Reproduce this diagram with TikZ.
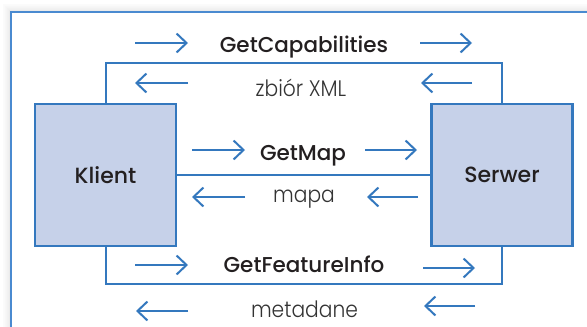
\documentclass[tikz,border=0pt]{standalone}
\usepackage{fontspec}
\setmainfont{Poppins}
\newfontfamily\reqfont{Poppins Medium}
\newfontfamily\respfont{Poppins Light}[FakeStretch=0.9]
\usetikzlibrary{arrows.meta}
\definecolor{wmsblue}{HTML}{3478BE}
\definecolor{frameblue}{HTML}{4A8AD0}
\definecolor{boxfill}{HTML}{C6D1E9}
\definecolor{ink}{HTML}{231F20}
\definecolor{softink}{HTML}{333333}
\tikzset{
  actor/.style={draw=wmsblue, line width=2.2pt, fill=boxfill,
    minimum width=141pt, minimum height=142pt, inner sep=0pt,
    font=\reqfont\fontsize{22}{22}\selectfont, text=ink},
  link/.style={draw=wmsblue, line width=2pt},
  flow/.style={draw=wmsblue, line width=2pt,
    -{Straight Barb[length=10pt,width=19pt,line width=2pt]}},
  request/.style={font=\reqfont\fontsize{21.5}{21.5}\selectfont, text=ink,
    inner sep=0pt, anchor=base},
  reply/.style={font=\respfont\fontsize{22.5}{22.5}\selectfont, text=softink,
    inner sep=0pt, anchor=base}
}
\begin{document}
\begin{tikzpicture}[x=1pt,y=-1pt]
\useasboundingbox (0,0) rectangle (587,327);
\begin{scope}
\clip (0,0) rectangle (587,327);
% soft shadow above and left of the panel
\foreach \d/\o in {1/0.10,2/0.08,3/0.06,4/0.05,5/0.04,6/0.03,7/0.02,8/0.015}{
  \draw[black, opacity=\o, line width=1pt] (11-\d,340) -- (11-\d,12-\d) -- (600,12-\d);
}
\fill[white] (11,12) rectangle (600,340);
% panel frame
\draw[frameblue, line width=1.5pt] (11,340) -- (11,12) -- (600,12);
\end{scope}

% client and server
\node[actor] (k) at (105.5,175) {Klient};
\node[actor] (s) at (502,175) {Serwer};

% connectors between the two boxes
\coordinate (tl) at (105.5,63);
\coordinate (bl) at (105.5,284);
\draw[link] (k.north) -- (tl) -| (s.north);
\draw[link] (k.east) -- (s.west);
\draw[link] (k.south) -- (bl) -| (s.south);

% GetCapabilities / zbiór XML
\node[request] (gc) at (304,52) {GetCapabilities};
\node[reply] (xml) at (301,96) {zbiór XML};
\coordinate (a1s) at (135,43); \coordinate (a1e) at (188,43);
\coordinate (a2s) at (420,43); \coordinate (a2e) at (472,43);
\draw[flow] (a1s) -- (a1e);
\draw[flow] (a2s) -- (a2e);
\coordinate (b1s) at (188,83); \coordinate (b1e) at (135,83);
\coordinate (b2s) at (472,83); \coordinate (b2e) at (421,83);
\draw[flow] (b1s) -- (b1e);
\draw[flow] (b2s) -- (b2e);

% GetMap / mapa
\node[request] (gm) at (303,160) {GetMap};
\node[reply] (mp) at (304,202) {mapa};
\coordinate (c1s) at (192,150); \coordinate (c1e) at (245,150);
\coordinate (c2s) at (365,150); \coordinate (c2e) at (417,150);
\draw[flow] (c1s) -- (c1e);
\draw[flow] (c2s) -- (c2e);
\coordinate (d1s) at (245,197); \coordinate (d1e) at (192,197);
\coordinate (d2s) at (418,197); \coordinate (d2e) at (367,197);
\draw[flow] (d1s) -- (d1e);
\draw[flow] (d2s) -- (d2e);

% GetFeatureInfo / metadane
\node[request] (gf) at (304,272) {GetFeatureInfo};
\node[reply] (md) at (304.5,317) {metadane};
\coordinate (e1s) at (135,265); \coordinate (e1e) at (188,265);
\coordinate (e2s) at (423,268); \coordinate (e2e) at (475,268);
\draw[flow] (e1s) -- (e1e);
\draw[flow] (e2s) -- (e2e);
\coordinate (f1s) at (188,311); \coordinate (f1e) at (136,311);
\coordinate (f2s) at (475,306); \coordinate (f2e) at (424,306);
\draw[flow] (f1s) -- (f1e);
\draw[flow] (f2s) -- (f2e);
\end{tikzpicture}
\end{document}
